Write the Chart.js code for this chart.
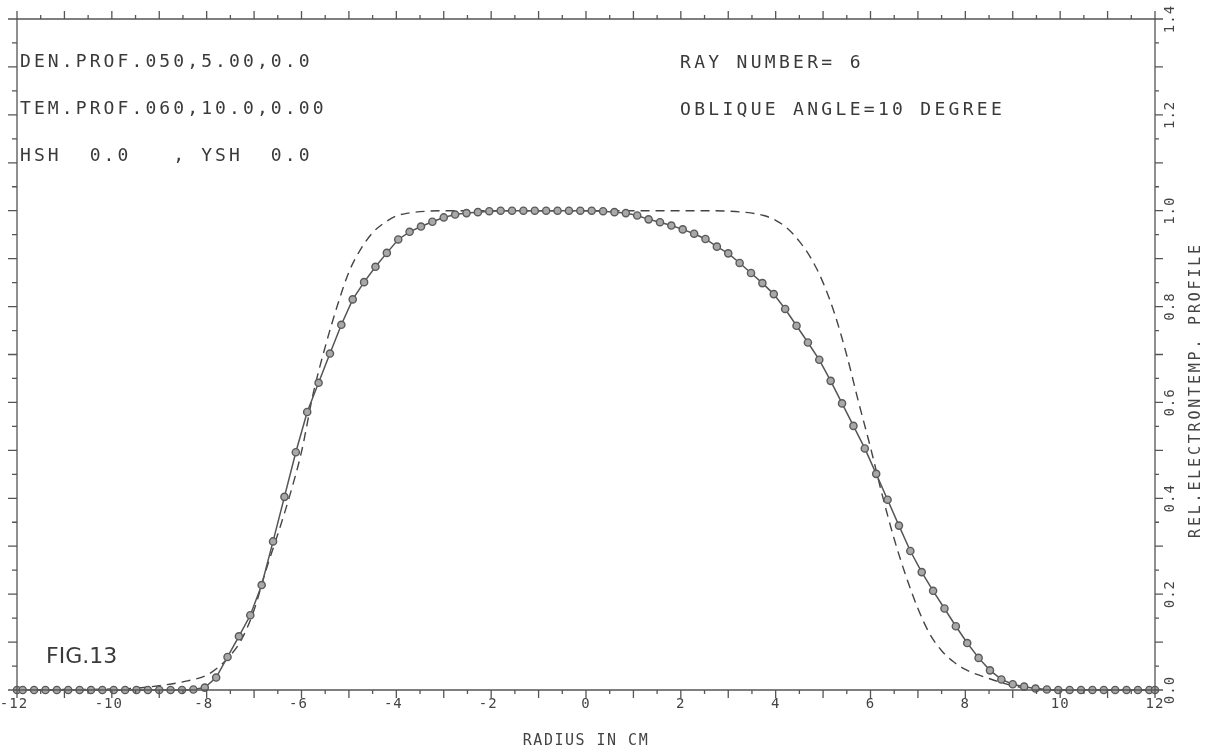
<!DOCTYPE html>
<html>
<head>
<meta charset="utf-8">
<script src="https://cdn.jsdelivr.net/npm/chart.js@4"></script>
<style>
  html, body { margin: 0; padding: 0; background: #fff; }
  #plot { display: block; }
</style>
</head>
<body>
<canvas id="plot" width="1220" height="750"></canvas>
<script>
// --- DATA ---
// measured profile (solid line with circles)
const solidRadius = [-12,
  -11.88, -11.64, -11.40, -11.16, -10.92, -10.68, -10.44, -10.20, -9.96, -9.72,
  -9.48, -9.24, -9.00, -8.76, -8.52, -8.28, -8.04, -7.80, -7.56, -7.32,
  -7.08, -6.84, -6.60, -6.36, -6.12, -5.88, -5.64, -5.40, -5.16, -4.92,
  -4.68, -4.44, -4.20, -3.96, -3.72, -3.48, -3.24, -3.00, -2.76, -2.52,
  -2.28, -2.04, -1.80, -1.56, -1.32, -1.08, -0.84, -0.60, -0.36, -0.12,
  0.12, 0.36, 0.60, 0.84, 1.08, 1.32, 1.56, 1.80, 2.04, 2.28,
  2.52, 2.76, 3.00, 3.24, 3.48, 3.72, 3.96, 4.20, 4.44, 4.68,
  4.92, 5.16, 5.40, 5.64, 5.88, 6.12, 6.36, 6.60, 6.84, 7.08,
  7.32, 7.56, 7.80, 8.04, 8.28, 8.52, 8.76, 9.00, 9.24, 9.48,
  9.72, 9.96, 10.20, 10.44, 10.68, 10.92, 11.16, 11.40, 11.64, 11.88,
  12];
const solidValues = [0,
  0, 0, 0, 0, 0, 0, 0, 0, 0, 0,
  0, 0, 0, 0, 0, 0.001, 0.005, 0.026, 0.069, 0.112,
  0.156, 0.219, 0.310, 0.403, 0.496, 0.580, 0.641, 0.702, 0.762, 0.815,
  0.851, 0.883, 0.912, 0.940, 0.956, 0.967, 0.977, 0.986, 0.992, 0.995,
  0.997, 0.999, 1.0, 1.0, 1.0, 1.0, 1.0, 1.0, 1.0, 1.0,
  1.0, 0.999, 0.997, 0.995, 0.990, 0.982, 0.976, 0.969, 0.961, 0.952,
  0.941, 0.925, 0.911, 0.891, 0.870, 0.849, 0.826, 0.795, 0.760, 0.725,
  0.689, 0.645, 0.598, 0.551, 0.504, 0.451, 0.397, 0.343, 0.290, 0.246,
  0.207, 0.170, 0.133, 0.098, 0.067, 0.041, 0.022, 0.012, 0.007, 0.003,
  0.001, 0, 0, 0, 0, 0, 0, 0, 0, 0,
  0];

// model profile (dashed line)
const dashRadius = [-12, -11, -10, -9.5, -9, -8.5, -8, -7.75, -7.5, -7.25,
  -7, -6.75, -6.5, -6.25, -6, -5.75, -5.5, -5.25, -5, -4.75,
  -4.5, -4.25, -4, -3.75, -3.5, -3, -2, 0, 2, 2.5,
  3, 3.5, 3.75, 4, 4.25, 4.5, 4.75, 5, 5.25, 5.5,
  5.75, 6, 6.25, 6.5, 6.75, 7, 7.25, 7.5, 7.75, 8,
  8.5, 9, 9.5, 10, 11, 12];
const dashValues = [0, 0.001, 0.002, 0.004, 0.009, 0.017, 0.031, 0.048, 0.072, 0.108,
  0.167, 0.250, 0.325, 0.405, 0.497, 0.620, 0.716, 0.800, 0.872, 0.920,
  0.954, 0.975, 0.989, 0.995, 0.998, 1.0, 1.0, 1.0, 1.0, 1.0,
  0.999, 0.995, 0.990, 0.980, 0.963, 0.936, 0.900, 0.850, 0.783, 0.698,
  0.600, 0.506, 0.406, 0.315, 0.237, 0.170, 0.117, 0.082, 0.059, 0.043,
  0.024, 0.009, 0.002, 0, 0, 0];

// axis ticks / labels
const xLabelValues = [-12, -10, -8, -6, -4, -2, 0, 2, 4, 6, 8, 10, 12];
const yLabelValues = [0, 0.2, 0.4, 0.6, 0.8, 1.0, 1.2, 1.4];
const xTitle = 'RADIUS IN CM';
const yTitle = 'REL.ELECTRONTEMP. PROFILE';
const leftNotes = ['DEN.PROF.050,5.00,0.0', 'TEM.PROF.060,10.0,0.00', 'HSH  0.0   , YSH  0.0'];
const rightNotes = ['RAY NUMBER= 6', 'OBLIQUE ANGLE=10 DEGREE'];
const figLabel = 'FIG.13';

const INK = '#444';
const MONO = '"DejaVu Sans Mono", "Liberation Mono", monospace';

function pairs(xs, ys) {
    return xs.map((x, i) => ({ x: x, y: ys[i] }));
}

// --- FRAME, TICKS, TEXT ---
const framePlugin = {
    id: 'frame',
    afterDraw(chart) {
        const ctx = chart.ctx;
        const xs = chart.scales.x;
        const ys = chart.scales.y;
        const a = chart.chartArea;

        ctx.save();
        ctx.strokeStyle = '#555';
        ctx.lineWidth = 1.3;
        ctx.beginPath();
        ctx.rect(a.left, a.top, a.right - a.left, a.bottom - a.top);
        ctx.stroke();

        // x ticks: integers long, halves short (bottom down, top up)
        ctx.beginPath();
        for (let i = -24; i <= 24; i++) {
            const v = i / 2;
            const px = xs.getPixelForValue(v);
            const len = (i % 2 === 0) ? 8 : 4;
            ctx.moveTo(px, a.bottom); ctx.lineTo(px, a.bottom + len);
            ctx.moveTo(px, a.top); ctx.lineTo(px, a.top - len);
        }
        // y ticks every 0.05: left outward, right outward
        for (let i = 0; i <= 28; i++) {
            const py = ys.getPixelForValue(i * 0.05);
            const len = (i % 2 === 0) ? 9 : 5;
            ctx.moveTo(a.left, py); ctx.lineTo(a.left - len, py);
            ctx.moveTo(a.right, py); ctx.lineTo(a.right + len - 1, py);
        }
        ctx.stroke();

        ctx.fillStyle = INK;

        // bottom labels
        ctx.font = '14px ' + MONO;
        ctx.letterSpacing = '1px';
        ctx.textAlign = 'center';
        ctx.textBaseline = 'middle';
        xLabelValues.forEach(v => {
            const txt = v < 0 ? '-' + Math.abs(v) : String(v);
            ctx.fillText(txt, xs.getPixelForValue(v) - (v < 0 ? 3 : 0), a.bottom + 14);
        });

        ctx.font = '15px ' + MONO;
        ctx.letterSpacing = '1.5px';
        ctx.fillText(xTitle, xs.getPixelForValue(0), a.bottom + 51);

        // right labels, rotated to read upward
        ctx.font = '14px ' + MONO;
        ctx.letterSpacing = '1px';
        yLabelValues.forEach(v => {
            ctx.save();
            ctx.translate(a.right + 15, ys.getPixelForValue(v));
            ctx.rotate(-Math.PI / 2);
            ctx.fillText(v.toFixed(1), 0, 0);
            ctx.restore();
        });

        ctx.save();
        ctx.font = '15px ' + MONO;
        ctx.letterSpacing = '2.8px';
        ctx.translate(a.right + 41, 390);
        ctx.rotate(-Math.PI / 2);
        ctx.fillText(yTitle, 0, 0);
        ctx.restore();

        // notes inside the frame
        ctx.font = '18px ' + MONO;
        ctx.letterSpacing = '3.1px';
        ctx.textAlign = 'left';
        ctx.fillStyle = '#3a3a3a';
        leftNotes.forEach((t, i) => ctx.fillText(t, a.left + 3, 62 + i * 47));
        ctx.letterSpacing = '3.3px';
        rightNotes.forEach((t, i) => ctx.fillText(t, 680, 63 + i * 47));

        ctx.font = '22px "Liberation Sans Narrow", "DejaVu Sans", sans-serif';
        ctx.letterSpacing = '0px';
        ctx.fillText(figLabel, 46, 657);
        ctx.restore();
    }
};

new Chart(document.getElementById('plot').getContext('2d'), {
    type: 'scatter',
    data: {
        datasets: [
            {
                label: 'measured',
                data: pairs(solidRadius, solidValues),
                showLine: true,
                borderColor: '#555',
                borderWidth: 1.5,
                pointRadius: 3.6,
                pointBorderWidth: 1.4,
                pointBorderColor: '#5a5a5a',
                pointBackgroundColor: '#a8a8a8',
                tension: 0,
                clip: 10,
                order: 0
            },
            {
                label: 'model',
                data: pairs(dashRadius, dashValues),
                showLine: true,
                borderColor: '#444',
                borderWidth: 1.4,
                borderDash: [9, 6],
                pointRadius: 0,
                cubicInterpolationMode: 'monotone',
                clip: 10,
                order: 1
            }
        ]
    },
    options: {
        responsive: false,
        devicePixelRatio: 1,
        animation: false,
        layout: { padding: { left: 17, right: 65, top: 19, bottom: 60 } },
        plugins: { legend: { display: false }, tooltip: { enabled: false } },
        scales: {
            x: { type: 'linear', min: -12, max: 12, display: false },
            y: { type: 'linear', min: 0, max: 1.4, display: false }
        }
    },
    plugins: [framePlugin]
});
</script>
</body>
</html>
